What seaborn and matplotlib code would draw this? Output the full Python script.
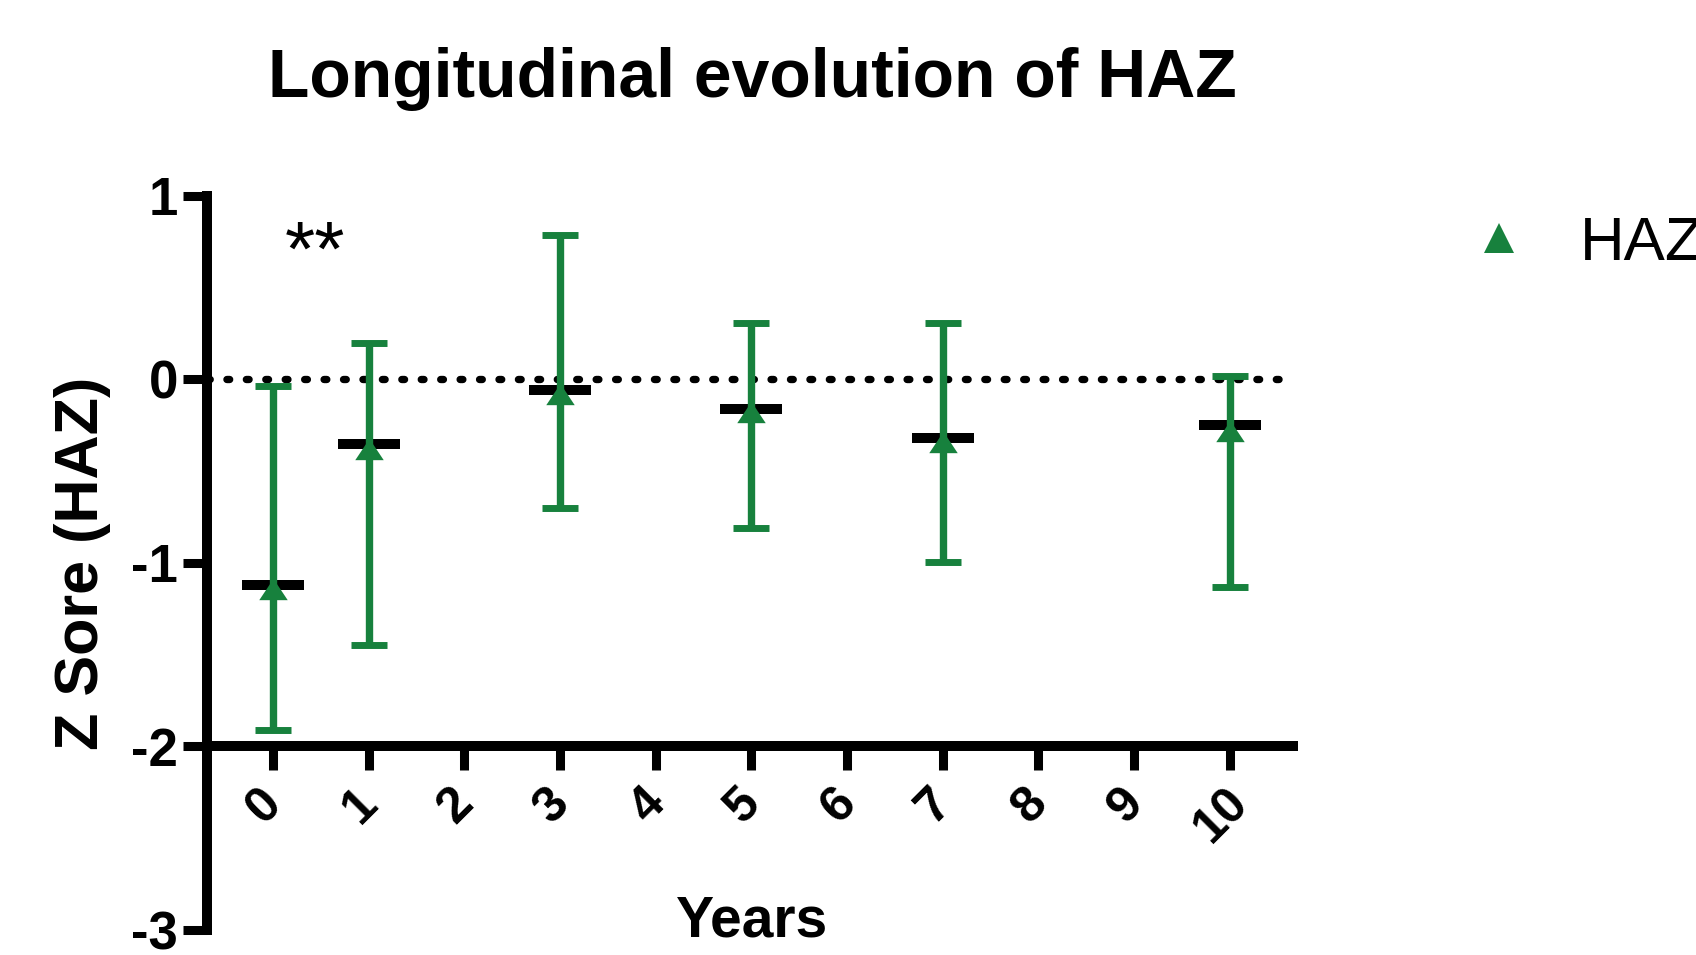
import matplotlib
matplotlib.use("Agg")
import matplotlib.pyplot as plt
import matplotlib.transforms as mtransforms
from matplotlib.lines import Line2D
import numpy as np
import pandas as pd
import seaborn as sns

# ── Data ──────────────────────────────────────────────────────
years      = [0, 1, 3, 5, 7, 10]
haz_point  = [-1.14, -0.38, -0.08, -0.18, -0.34, -0.28]   # triangles
haz_line   = [-1.12, -0.35, -0.06, -0.16, -0.32, -0.25]   # black bars
haz_upper  = [-0.035, 0.196, 0.787, 0.305, 0.305, 0.019]
haz_lower  = [-1.91, -1.45, -0.70, -0.81, -0.995, -1.13]
tick_years = list(range(0, 11))
y_ticks    = [1, 0, -1, -2, -3]

GREEN = "#17813D"

df = pd.DataFrame({"year": years, "point": haz_point, "line": haz_line,
                   "upper": haz_upper, "lower": haz_lower})

sns.set_theme(style="ticks", rc={
    "text.color": "black", "axes.labelcolor": "black",
    "xtick.color": "black", "ytick.color": "black",
    "axes.edgecolor": "black",
})
plt.rcParams["font.family"] = ["Liberation Sans", "DejaVu Sans"]

fig = plt.figure(figsize=(16.96, 9.55), dpi=100)
ax = fig.add_axes([0.12205, 0.02618, 0.6403, 0.7688])

# axis frame first: moving a spine resets the ticks
ax.spines["top"].set_visible(False)
ax.spines["right"].set_visible(False)
ax.spines["bottom"].set_position(("data", -2))
for s in ("left", "bottom"):
    ax.spines[s].set_linewidth(7.2)
    ax.spines[s].set_capstyle("projecting")

# mean bars
ax.hlines(df["line"], df["year"] - 0.324, df["year"] + 0.324,
          color="black", linewidth=7.2, zorder=2)

# error bars
eb = ax.errorbar(df["year"], df["point"],
                 yerr=[df["point"] - df["lower"], df["upper"] - df["point"]],
                 fmt="none", ecolor=GREEN, elinewidth=5.3,
                 capsize=13.2, capthick=5.0, zorder=3)
for cap in eb[1]:
    cap.set_solid_capstyle("round")

# triangles (flattened)
tri = [(0, 0.75), (-1, -0.75), (1, -0.75)]
sns.scatterplot(data=df, x="year", y="point", marker=tri, s=20.5 ** 2,
                color=GREEN, linewidth=0, ax=ax, zorder=4, legend=False)

# reference line
ax.axhline(0, color="black", linewidth=5.3, linestyle=(0, (0.37, 2.27)),
           dash_capstyle="round", zorder=1)

ax.text(0.44, 0.565, "**", fontsize=56, ha="center", va="baseline")

ax.set_xlim(-0.69, 10.66)
ax.set_ylim(-3, 1)
ax.set_xticks(tick_years)
ax.set_xticklabels([str(t) for t in tick_years], rotation=45,
                   ha="center", fontsize=36, fontweight="bold")
ax.set_yticks(y_ticks)
ax.set_yticklabels([str(t) for t in y_ticks], fontsize=38, fontweight="bold")

ax.tick_params(axis="both", length=17, width=6.5, color="black")
ax.tick_params(axis="x", pad=7)
ax.tick_params(axis="y", pad=4)

# nudge rotated year labels a little left (after tick_params, which resets them)
off = mtransforms.ScaledTranslation(-0.08, 0, fig.dpi_scale_trans)
for lab in ax.get_xticklabels():
    lab.set_transform(lab.get_transform() + off)

ax.set_xlabel("Years", fontsize=41, fontweight="bold")
ax.set_ylabel("Z Sore (HAZ)", fontsize=44, fontweight="bold")
ax.xaxis.set_label_coords(0.5016, 0.048)
ax.yaxis.set_label_coords(-0.088, 0.5)

fig.text(0.4435, 0.8987, "Longitudinal evolution of HAZ",
         fontsize=48.9, fontweight="bold", ha="center", va="baseline")

handle = Line2D([], [], marker="^", linestyle="none", color=GREEN,
                markersize=21, markeredgewidth=0)
fig.legend(handles=[handle], labels=["HAZ"], loc="center left",
           bbox_to_anchor=(0.8655, 0.744), frameon=False, fontsize=44.5,
           handlelength=1.0, handletextpad=0.815, borderpad=0,
           borderaxespad=0)

fig.savefig("out.png", dpi=100)
